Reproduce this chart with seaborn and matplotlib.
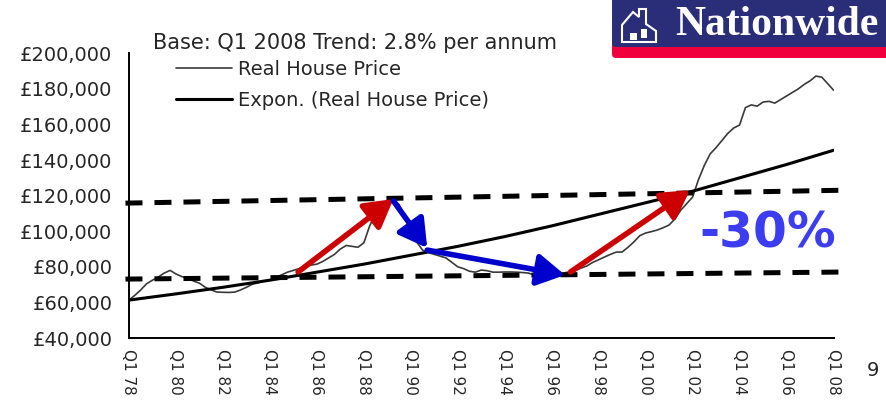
import numpy as np
import pandas as pd
import matplotlib
matplotlib.use('Agg')
import matplotlib.pyplot as plt
import seaborn as sns
from matplotlib.patches import FancyBboxPatch, Rectangle, Polygon

# Real house price, quarterly Q1 1978 .. Q1 2008 (in GBP thousands)
real_price = [
    61.3, 64.0, 67.0, 70.5,    # 1978
    72.5, 74.3, 76.5, 78.0,    # 1979
    76.0, 74.5, 73.5, 72.0,    # 1980
    70.8, 68.5, 67.0, 65.8,    # 1981
    65.7, 65.6, 65.8, 67.0,    # 1982
    68.5, 70.2, 71.0, 72.0,    # 1983
    72.6, 74.0, 75.5, 77.0,    # 1984
    78.0, 79.0, 80.0, 81.0,    # 1985
    81.5, 83.0, 85.0, 87.0,    # 1986
    90.0, 92.0, 91.5, 91.0,    # 1987
    93.5, 103.0, 110.0, 114.0, # 1988
    115.8, 118.0, 115.0, 108.0,# 1989
    100.0, 94.0, 89.4, 88.0,   # 1990
    87.0, 86.0, 85.0, 82.5,    # 1991
    80.0, 79.0, 77.5, 77.0,    # 1992
    78.2, 77.8, 77.0, 77.0,    # 1993
    77.1, 77.1, 77.0, 76.8,    # 1994
    76.5, 75.5, 74.5, 73.7,    # 1995
    73.7, 75.0, 76.5, 77.2,    # 1996
    78.0, 79.3, 80.5, 82.5,    # 1997
    84.0, 85.5, 87.0, 88.3,    # 1998
    88.3, 91.0, 94.0, 97.5,    # 1999
    99.0, 99.8, 100.7, 102.0,  # 2000
    103.5, 107.0, 111.9, 115.5,# 2001
    119.2, 129.0, 137.0, 143.5,# 2002
    147.0, 151.0, 155.0, 158.0,# 2003
    159.7, 169.5, 171.0, 170.3,# 2004
    172.6, 173.0, 172.0, 174.0,# 2005
    176.0, 178.0, 180.0, 182.5,# 2006
    184.5, 187.2, 186.6, 183.0,# 2007
    179.3,                     # 2008
]

# Exponential trend line, every two years
trend_years = [1978, 1980, 1982, 1984, 1986, 1988, 1990, 1992, 1994, 1996, 1998, 2000, 2002, 2004, 2006, 2008]
trend_price = [61.3, 64.8, 68.5, 72.5, 77.0, 81.5, 86.5, 91.5, 97.0, 103.0, 109.5, 116.0, 122.5, 130.0, 137.5, 145.5]

# dashed channel lines (year, thousands)
channel_years = [1977.85, 2008.6]
channel_upper = [115.8, 123.1]
channel_lower = [73.1, 77.1]

# annotation arrows: (from_year, from_value) -> (to_year, to_value)
arrow_from = [(1985.2, 77.1), (1989.26, 117.0), (1990.7, 89.4), (1996.8, 77.1)]
arrow_to = [(1989.26, 118.1), (1990.7, 90.6), (1996.57, 75.4), (2001.89, 123.1)]
arrow_colors = ['#cc0000', '#0000cc', '#0000cc', '#cc0000']

tick_years = list(range(1978, 2009, 2))
tick_labels = ['Q1 %02d' % (y % 100) for y in tick_years]

price_df = pd.DataFrame({'year': 1978 + np.arange(len(real_price)) / 4.0,
                         'price': np.array(real_price) * 1000})
trend_df = pd.DataFrame({'year': trend_years, 'price': np.array(trend_price) * 1000})

sns.set_style('white')
plt.rcParams['font.family'] = ['DejaVu Sans']

fig = plt.figure(figsize=(8.86, 4.03), dpi=100)
ax = fig.add_axes([129 / 886, 1 - 338 / 403, (833.5 - 129) / 886, (338 - 53.3) / 403])

sns.lineplot(data=price_df, x='year', y='price', ax=ax, color='#3a3a3a', lw=1.2,
             label='Real House Price', zorder=2)
sns.lineplot(data=trend_df, x='year', y='price', ax=ax, color='black', lw=2.2,
             label='Expon. (Real House Price)', zorder=2)

# dashed channel
for vals in (channel_upper, channel_lower):
    ax.plot(channel_years, np.array(vals) * 1000, color='black', lw=3.6,
            linestyle=(0, (3.4, 2.4)), clip_on=False, zorder=3)

# arrows
for (x0, y0), (x1, y1), c in zip(arrow_from, arrow_to, arrow_colors):
    ax.annotate('', xy=(x1, y1 * 1000), xytext=(x0, y0 * 1000),
                arrowprops=dict(arrowstyle='-|>,head_length=0.42,head_width=0.24',
                                mutation_scale=40, lw=4, color=c,
                                shrinkA=0, shrinkB=0),
                annotation_clip=False, zorder=4)

ax.set_xlim(1978, 2008)
ax.set_ylim(40000, 200000)
ax.set_xticks(tick_years)
ax.set_xticklabels(tick_labels, rotation=-90, fontsize=11)
ax.set_yticks(range(40000, 200001, 20000))
ax.set_yticklabels(['£{:,.0f}'.format(v) for v in range(40000, 200001, 20000)], fontsize=14)
ax.set_xlabel('')
ax.set_ylabel('')
for s in ('top', 'right'):
    ax.spines[s].set_visible(False)
for s in ('left', 'bottom'):
    ax.spines[s].set_color('black')
    ax.spines[s].set_linewidth(1.4)
ax.tick_params(axis='y', direction='out', length=7, width=1.3, color='black', pad=5)
ax.tick_params(axis='x', direction='out', length=5, width=1.3, color='black', pad=3)

# legend
fig.text(153 / 886, 1 - 43 / 403, 'Base: Q1 2008 Trend: 2.8% per annum', fontsize=15,
         ha='left', va='center')
ax.legend(loc='upper left', bbox_to_anchor=(176 / 886, 1 - 60 / 403),
          bbox_transform=fig.transFigure, frameon=False, fontsize=14,
          handlelength=2.9, handletextpad=0.3, labelspacing=0.6, borderpad=0,
          borderaxespad=0)

# big label
fig.text(768 / 886, 1 - 233 / 403, '-30%', fontsize=35, fontweight='bold',
         color='#3c3cf0', ha='center', va='center')

# page number
fig.text(873 / 886, 1 - 370 / 403, '9', fontsize=14, ha='center', va='center')

# Nationwide logo (pixel coords -> inches)
def px(x, y):
    return (x / 100.0, (403 - y) / 100.0)

tr = fig.dpi_scale_trans
fig.add_artist(FancyBboxPatch(px(612, 58), 3.0, 0.7, boxstyle='round,pad=0,rounding_size=0.04',
                              transform=tr, facecolor='#f0003c', edgecolor='none'))
fig.add_artist(FancyBboxPatch(px(612, 47), 3.0, 0.6, boxstyle='round,pad=0,rounding_size=0.04',
                              transform=tr, facecolor='#2a2d78', edgecolor='none'))
house = [px(622, 42), px(622, 25), px(633, 12), px(639, 17), px(639, 9), px(646, 9),
         px(646, 24), px(656, 31), px(656, 42)]
fig.add_artist(Polygon(house, closed=True, transform=tr, facecolor='none',
                       edgecolor='white', lw=1.5))
fig.add_artist(Rectangle(px(630, 40), 0.07, 0.07, transform=tr, facecolor='white', edgecolor='none'))
fig.add_artist(Rectangle(px(641, 38), 0.06, 0.09, transform=tr, facecolor='white', edgecolor='none'))
fig.text(777 / 886, 1 - 25 / 403, 'Nationwide', fontsize=30, fontweight='bold',
         family=['Liberation Serif', 'DejaVu Serif'], color='white', ha='center', va='center')

plt.savefig('out.png', dpi=100)
